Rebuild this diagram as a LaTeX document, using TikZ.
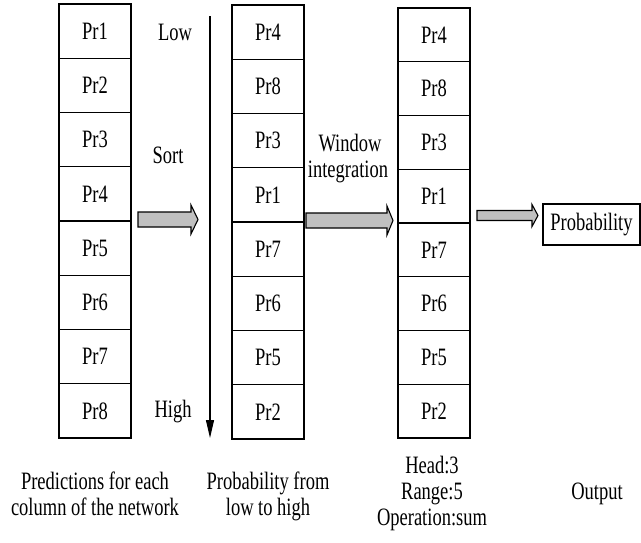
\documentclass[tikz,border=0pt]{standalone}
\usepackage{fontspec}
\setmainfont{Liberation Serif}[FakeStretch=0.74]
\usetikzlibrary{arrows.meta}
\definecolor{arrowgray}{HTML}{C0C0C0}
\newcommand\blkarrow[6]{% x1 xh x2 yc halfshaft halfhead
  \draw[blk] (#1,#4-#5) -- (#2,#4-#5) -- (#2,#4-#6) -- (#3,#4) -- (#2,#4+#6) -- (#2,#4+#5) -- (#1,#4+#5) -- cycle;}
\begin{document}
\begin{tikzpicture}[x=1pt,y=-1pt,
  cell/.style={draw,line width=1.1pt,minimum width=72pt,minimum height=#1,inner sep=0pt,font=\fontsize{25}{26}\selectfont},
  lbl/.style={anchor=base,inner sep=0pt,font=\fontsize{25}{26}\selectfont},
  blk/.style={draw,line width=1.1pt,fill=arrowgray,line join=miter}]
\useasboundingbox (0,0) rectangle (641,542);
% column 1
\foreach \t [count=\i] in {Pr1,Pr2,Pr3,Pr4,Pr5,Pr6,Pr7,Pr8}
  \node[cell=54.25pt] (a\i) at (95,{4+54.25*(\i-0.5)}) {\t};
% column 2
\foreach \t [count=\i] in {Pr4,Pr8,Pr3,Pr1,Pr7,Pr6,Pr5,Pr2}
  \node[cell=54.25pt] (b\i) at (268,{5+54.25*(\i-0.5)}) {\t};
% column 3
\foreach \t [count=\i] in {Pr4,Pr8,Pr3,Pr1,Pr7,Pr6,Pr5,Pr2}
  \node[cell=53.75pt] (c\i) at (434,{8+53.75*(\i-0.5)}) {\t};
% output box
\node[draw,line width=1.1pt,minimum width=97pt,minimum height=41pt,inner sep=0pt,font=\fontsize{25}{26}\selectfont] (prob) at (591.5,224.5) {Probability};
% sort arrow
\coordinate (st) at (210,16);
\coordinate (se) at (210,438);
\draw[line width=1.1pt,-{Triangle[length=18pt,width=8pt]}] (st) -- (se);
% block arrows
\blkarrow{138}{191}{198}{219.5}{7.5}{14.5}
\blkarrow{306}{387}{393}{220.5}{7.5}{14.5}
\blkarrow{477}{532}{538}{215.5}{5}{11}
% labels
\node[lbl] (low) at (175,40) {Low};
\node[lbl] (sort) at (168,163) {Sort};
\node[lbl] (high) at (173,417) {High};
\node[lbl] (win1) at (350,151) {Window};
\node[lbl] (win2) at (348,177) {integration};
\node[lbl] (p1) at (95,489) {Predictions for each};
\node[lbl] (p2) at (95,515) {column of the network};
\node[lbl] (q1) at (268,489) {Probability from};
\node[lbl] (q2) at (268,515) {low to high};
\node[lbl] (h1) at (432,473) {Head:3};
\node[lbl] (h2) at (432,499) {Range:5};
\node[lbl] (h3) at (432,525) {Operation:sum};
\node[lbl] (out) at (597,499) {Output};
\end{tikzpicture}
\end{document}
